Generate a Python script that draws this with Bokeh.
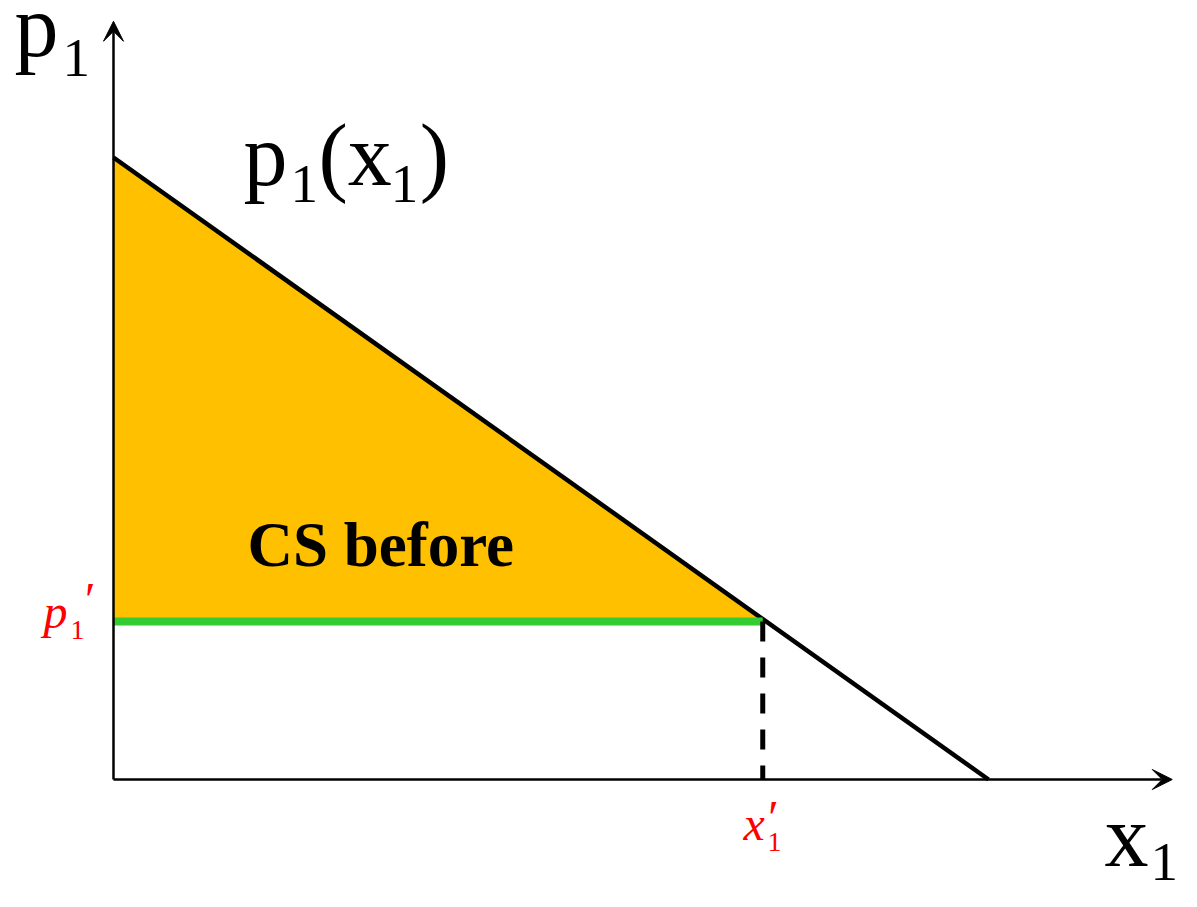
from bokeh.plotting import figure
from bokeh.models import Range1d, Arrow, VeeHead, Label
from bokeh.embed import file_html
from bokeh.resources import INLINE

# ---- data ----
demand_x = [0.0, 10.0]          # quantity x1 at the two ends of p1(x1)
demand_p = [10.0, 0.0]          # price p1 at the two ends
x_prime = 7.42                  # x1'
p_prime = 2.54                  # p1'
axis_x_max = 12.10              # length of horizontal axis arrow
axis_y_max = 12.19              # length of vertical axis arrow

# consumer surplus triangle vertices (derived from the data above)
cs_x = [0.0, 0.0, x_prime]
cs_y = [demand_p[0], p_prime, p_prime]

SERIF = "Liberation Serif"

p = figure(width=1181, height=891, output_backend="svg", toolbar_location=None,
           x_range=Range1d(-1.2914, 12.2057), y_range=Range1d(-1.8006, 12.524),
           min_border=0, outline_line_color=None)
p.axis.visible = False
p.grid.visible = False
p.background_fill_color = "white"
p.border_fill_color = "white"

# CS area
p.patch(cs_x, cs_y, fill_color="#FFC000", line_color=None)

# demand line
p.line(demand_x, demand_p, line_color="black", line_width=4.5)

# green price line
p.line([0, x_prime], [p_prime, p_prime], line_color="#33CC33", line_width=8)

# dashed drop line
p.line([x_prime, x_prime], [p_prime, 0], line_color="black", line_width=5,
       line_dash="20 16")

# axes with arrowheads
p.add_layout(Arrow(end=VeeHead(size=20, fill_color="black", line_color="black", line_width=1),
                   x_start=0, y_start=0, x_end=0, y_end=axis_y_max,
                   line_color="black", line_width=2.5))
p.add_layout(Arrow(end=VeeHead(size=20, fill_color="black", line_color="black", line_width=1),
                   x_start=0, y_start=0, x_end=axis_x_max, y_end=0,
                   line_color="black", line_width=2.5))


def lab(x, y, text, size, color="black", style="normal"):
    p.add_layout(Label(x=x, y=y, text=text, text_font=SERIF,
                       text_font_size=f"{size}px", text_color=color,
                       text_font_style=style, text_align="left",
                       text_baseline="alphabetic", y_offset=0.3 * size))


# axis titles
lab(-1.131, 11.68, "p", 88)
lab(-0.583, 11.33, "1", 55)
lab(11.326, -1.334, "x", 88)
lab(11.851, -1.592, "1", 55)

# demand curve label p1(x1)
lab(1.486, 9.60, "p", 88)
lab(2.023, 9.31, "1", 55)
lab(2.343, 9.60, "(x", 88)
lab(3.17, 9.31, "1", 55)
lab(3.50, 9.60, ")", 88)

# CS label
lab(1.531, 3.473, "CS before", 63, style="bold")

# p1' label
lab(-0.80, p_prime - 0.064, "p", 48, color="red", style="italic")
lab(-0.36, p_prime + 0.12, "\u2032", 48, color="red", style="italic")
lab(-0.491, p_prime - 0.273, "1", 28, color="red")

# x1' label
lab(x_prime - 0.22, -0.932, "x", 48, color="red", style="italic")
lab(x_prime + 0.03, -0.85, "\u2032", 48, color="red", style="italic")
lab(x_prime + 0.055, -1.141, "1", 28, color="red")

open("out.html", "w").write(file_html(p, INLINE))
